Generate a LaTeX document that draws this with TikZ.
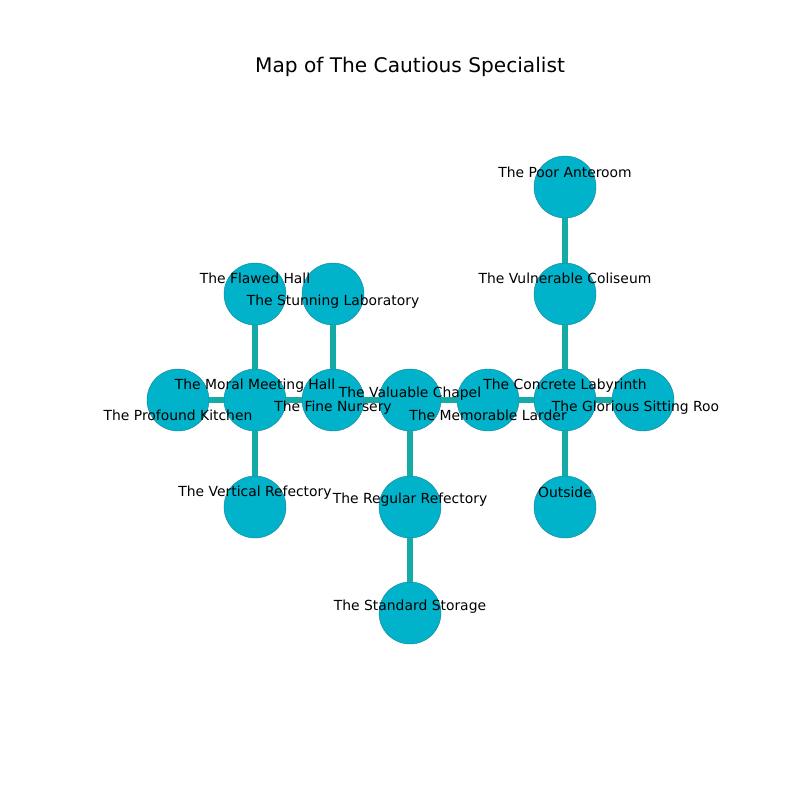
\documentclass[tikz,border=0pt]{standalone}
\usepackage{fontspec}
\setmainfont{DejaVu Sans}
\definecolor{nodefill}{RGB}{0,178,202}
\definecolor{nodeline}{RGB}{20,130,150}
\definecolor{edgecol}{RGB}{20,170,166}
\begin{document}
\begin{tikzpicture}[x=0.72pt,y=-0.72pt,
  room/.style={circle,fill=nodefill,draw=nodeline,line width=0.3pt,minimum size=62*0.72pt,inner sep=0pt},
  lbl/.style={font=\fontsize{10}{12}\selectfont,inner sep=0pt,text=black,yshift=-1.2pt},
  link/.style={draw=edgecol,line width=4pt}]
\useasboundingbox (0,0) rectangle (800,800);
\fill[white] (0,0) rectangle (800,800);
\node[font=\fontsize{14.5}{16}\selectfont] (title) at (410,67) {Map of The Cautious Specialist};
% nodes
\node[room] (poor) at (565,187) {};
\node[room] (vuln) at (565,294) {};
\node[room] (flawed) at (255,294) {};
\node[room] (stun) at (333,294) {};
\node[room] (prof) at (178,400) {};
\node[room] (moral) at (255,400) {};
\node[room] (fine) at (333,400) {};
\node[room] (val) at (410,400) {};
\node[room] (mem) at (488,400) {};
\node[room] (conc) at (565,400) {};
\node[room] (glor) at (643,400) {};
\node[room] (vert) at (255,507) {};
\node[room] (reg) at (410,507) {};
\node[room] (out) at (565,507) {};
\node[room] (std) at (410,613) {};
% edges
\foreach \a/\b in {poor/vuln,vuln/conc,flawed/moral,stun/fine,prof/moral,moral/fine,fine/val,val/mem,mem/conc,conc/glor,moral/vert,val/reg,reg/std,conc/out}
  \draw[link] (\a) -- (\b);
% labels
\node[lbl] (lpoor) at (565,171) {The Poor Anteroom};
\node[lbl] (lvuln) at (565,277) {The Vulnerable Coliseum};
\node[lbl] (lflawed) at (255,277) {The Flawed Hall};
\node[lbl] (lstun) at (333,300) {The Stunning Laboratory};
\node[lbl] (lprof) at (178,414) {The Profound Kitchen};
\node[lbl] (lmoral) at (255,384) {The Moral Meeting Hall};
\node[lbl] (lfine) at (333,406) {The Fine Nursery};
\node[lbl] (lval) at (410,392) {The Valuable Chapel};
\node[lbl] (lmem) at (488,414) {The Memorable Larder};
\node[lbl] (lconc) at (565,384) {The Concrete Labyrinth};
\node[lbl] (lglor) at (635.5,406) {The Glorious Sitting Roo};
\node[lbl] (lvert) at (255,491) {The Vertical Refectory};
\node[lbl] (lreg) at (410,498) {The Regular Refectory};
\node[lbl] (lout) at (565,491) {Outside};
\node[lbl] (lstd) at (410,605) {The Standard Storage};
\end{tikzpicture}
\end{document}
